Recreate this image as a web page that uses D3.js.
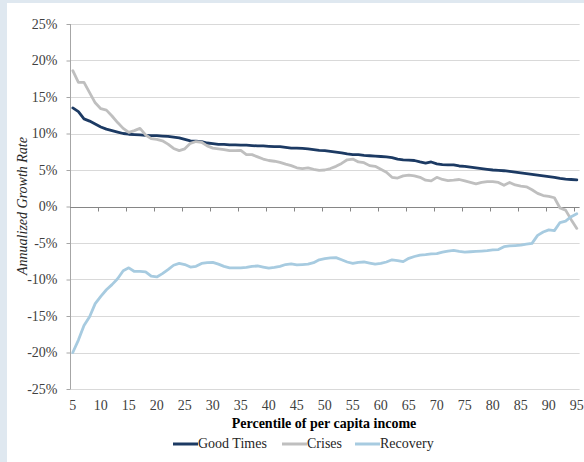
<!DOCTYPE html>
<html>
<head>
<meta charset="utf-8">
<script src="https://cdn.jsdelivr.net/npm/d3@7"></script>
<style>
  html, body { margin: 0; padding: 0; background: #dfe8f0; }
  svg { display: block; }
</style>
</head>
<body>
<svg id="chart" width="584" height="462"></svg>
<script>
// ---- data ----
const percentiles = d3.range(5, 96); // 5..95
const goodTimes = [13.5,13.0,12.0,11.7,11.3,10.9,10.6,10.4,10.2,10.0,
  9.9,9.85,9.8,9.75,9.7,9.7,9.65,9.6,9.5,9.4,
  9.2,9.0,8.95,8.9,8.7,8.6,8.5,8.5,8.45,8.45,
  8.4,8.4,8.35,8.3,8.3,8.25,8.2,8.2,8.1,8.0,
  8.0,7.95,7.9,7.8,7.7,7.65,7.55,7.45,7.35,7.2,
  7.1,7.1,7.0,6.95,6.9,6.85,6.8,6.7,6.5,6.4,
  6.35,6.3,6.1,5.95,6.1,5.85,5.75,5.7,5.7,5.55,
  5.5,5.4,5.3,5.2,5.1,5.0,4.95,4.9,4.8,4.7,
  4.6,4.5,4.4,4.3,4.2,4.1,4.0,3.85,3.75,3.7,3.65];
const crises = [18.6,17.0,17.0,15.6,14.2,13.4,13.2,12.4,11.5,10.7,
  10.15,10.4,10.7,9.8,9.3,9.2,9.0,8.55,7.95,7.65,
  7.9,8.65,8.9,8.8,8.3,8.0,7.9,7.8,7.65,7.65,
  7.7,7.1,7.1,6.8,6.5,6.3,6.2,6.05,5.8,5.6,
  5.3,5.2,5.3,5.1,4.95,5.0,5.2,5.5,5.9,6.4,
  6.5,6.1,6.0,5.6,5.5,5.1,4.7,4.0,3.9,4.2,
  4.3,4.2,4.0,3.6,3.5,4.0,3.7,3.55,3.6,3.7,
  3.5,3.3,3.1,3.3,3.4,3.4,3.3,2.9,3.3,2.95,
  2.8,2.7,2.3,1.8,1.5,1.4,1.2,-0.2,-0.5,-1.8,-3.0];
const recovery = [-20.0,-18.3,-16.3,-15.1,-13.3,-12.3,-11.4,-10.7,-9.9,-8.8,
  -8.4,-8.9,-8.9,-8.95,-9.55,-9.65,-9.2,-8.65,-8.05,-7.8,
  -7.95,-8.3,-8.2,-7.8,-7.7,-7.65,-7.9,-8.2,-8.4,-8.4,
  -8.4,-8.35,-8.2,-8.15,-8.3,-8.45,-8.35,-8.2,-7.95,-7.85,
  -8.0,-7.95,-7.9,-7.7,-7.3,-7.15,-7.05,-7.0,-7.3,-7.6,
  -7.8,-7.65,-7.6,-7.75,-7.9,-7.8,-7.6,-7.3,-7.4,-7.55,
  -7.1,-6.85,-6.65,-6.6,-6.5,-6.45,-6.25,-6.1,-6.0,-6.15,
  -6.25,-6.2,-6.15,-6.1,-6.05,-5.95,-5.9,-5.5,-5.4,-5.35,
  -5.3,-5.15,-5.05,-3.95,-3.5,-3.2,-3.3,-2.2,-2.0,-1.4,-1.0];
const yTicks = [25,20,15,10,5,0,-5,-10,-15,-20,-25];
const xTickLabels = d3.range(5, 96, 5);
const seriesNames = ["Good Times", "Crises", "Recovery"];
const seriesColors = ["#1c3a63", "#bfbfbf", "#a7cbe0"];
const seriesValues = [goodTimes, crises, recovery];

const FONT = "'Liberation Serif', 'Times New Roman', Times, serif";

// ---- layout ----
const svg = d3.select("#chart");
svg.append("rect").attr("x", 7).attr("y", 3).attr("width", 577).attr("height", 459).attr("fill", "#ffffff");

const x = d3.scaleBand().domain(percentiles).range([70, 579.6]).padding(0);
const y = d3.scaleLinear().domain([-25, 25]).range([389, 24]);

// gridlines
svg.append("g").selectAll("line").data(yTicks.filter(v => v !== 0)).join("line")
  .attr("x1", 70).attr("x2", 579.6)
  .attr("y1", d => Math.round(y(d)) + 0.5).attr("y2", d => Math.round(y(d)) + 0.5)
  .attr("stroke", "#d9d9d9").attr("stroke-width", 1);

// y axis
const yAxis = d3.axisLeft(y).tickValues(yTicks).tickSize(4).tickFormat(d => d + "%");
const gy = svg.append("g").attr("transform", "translate(70.5,0)").call(yAxis)
  .attr("font-family", FONT).attr("font-size", 14);
gy.select(".domain").attr("stroke", "#a6a6a6").attr("d", `M0,${y(25)}V${y(-25)}`);
gy.selectAll(".tick line").attr("stroke", "#a6a6a6");
gy.selectAll(".tick text").attr("x", -13).attr("fill", "#404040")
  .style("font-size", "14px").style("font-family", FONT);

// x axis line at 0 with ticks between categories
const x0 = Math.round(y(0)) + 0.5;
svg.append("line").attr("x1", 70).attr("x2", 579.6).attr("y1", x0).attr("y2", x0)
  .attr("stroke", "#868686").attr("stroke-width", 1);
const tickBounds = d3.range(1, 19).map(k => percentiles[k * 5]);
svg.append("g").selectAll("line").data(tickBounds).join("line")
  .attr("x1", d => Math.round(x(d)) + 0.5).attr("x2", d => Math.round(x(d)) + 0.5)
  .attr("y1", x0).attr("y2", x0 + 4)
  .attr("stroke", "#868686");

// x tick labels at bottom
svg.append("g").selectAll("text").data(xTickLabels).join("text")
  .attr("x", d => x(d) + x.bandwidth() / 2).attr("y", 410)
  .attr("text-anchor", "middle").attr("fill", "#404040")
  .style("font-family", FONT).style("font-size", "14px").text(d => d);

// x axis title
svg.append("text").attr("x", 324).attr("y", 428).attr("text-anchor", "middle")
  .style("font-family", FONT).style("font-size", "14px").style("font-weight", "bold").attr("fill", "#000")
  .text("Percentile of per capita income");

// y axis title
svg.append("text").attr("transform", "translate(27,206) rotate(-90)").attr("text-anchor", "middle")
  .style("font-family", FONT).style("font-size", "14px").style("font-style", "italic").attr("fill", "#262626")
  .text("Annualized Growth Rate");

// lines
const line = d3.line().x((d, i) => x(percentiles[i]) + x.bandwidth() / 2).y(d => y(d));
seriesValues.forEach((vals, i) => {
  svg.append("path").datum(vals).attr("d", line)
    .attr("fill", "none").attr("stroke", seriesColors[i]).attr("stroke-width", 2.8)
    .attr("stroke-linejoin", "round").attr("stroke-linecap", "round");
});

// legend
const legendX = [173, 282, 355];
const lg = svg.append("g");
seriesNames.forEach((name, i) => {
  lg.append("line").attr("x1", legendX[i]).attr("x2", legendX[i] + 25)
    .attr("y1", 444).attr("y2", 444).attr("stroke", seriesColors[i]).attr("stroke-width", 3);
  lg.append("text").attr("x", legendX[i] + 25).attr("y", 448)
    .style("font-family", FONT).style("font-size", "14px").attr("fill", "#262626").text(name);
});
</script>
</body>
</html>
